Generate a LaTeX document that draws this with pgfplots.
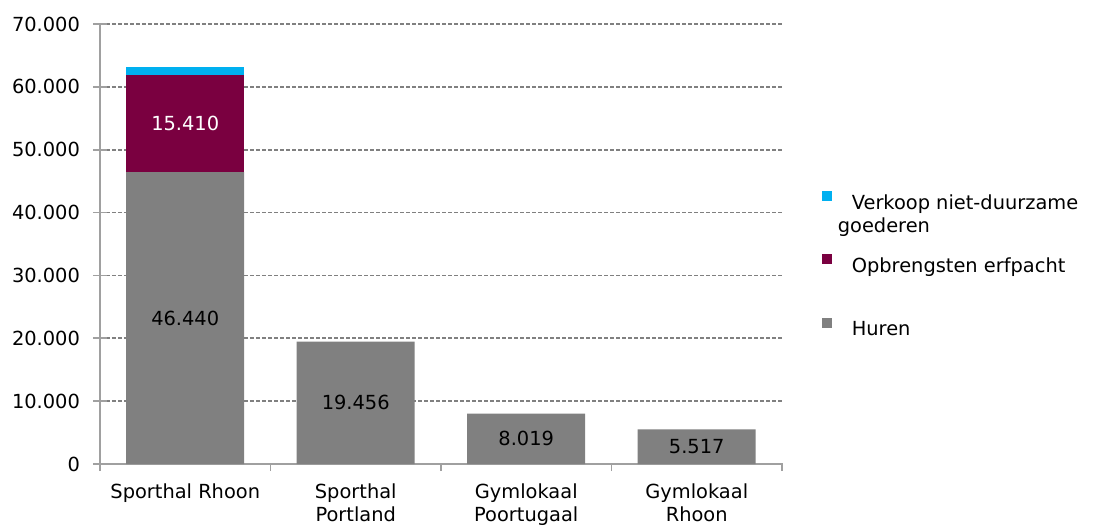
\documentclass[border=0pt]{standalone}
\usepackage{fontspec}
\setmainfont{DejaVu Sans}
\usepackage{pgfplots}
\pgfplotsset{compat=1.18}
\definecolor{cHuren}{HTML}{808080}
\definecolor{cErf}{HTML}{7A0040}
\definecolor{cVerk}{HTML}{00B0F0}
\definecolor{axgray}{HTML}{A0A0A0}

\begin{document}
\begin{tikzpicture}
\begin{axis}[
  width=341pt, height=220pt, scale only axis,
  ybar stacked, bar width=59pt,
  xmin=-0.5, xmax=3.5,
  ymin=0, ymax=70000,
  ytick={0,10000,...,70000},
  xtick={0,1,2,3},
  xticklabels={Sporthal Rhoon, Sporthal\\Portland, Gymlokaal\\Poortugaal, Gymlokaal\\Rhoon},
  x tick label style={align=center, yshift=-3pt},
  major x tick style={draw=none},
  minor xtick={-0.5,0.5,1.5,2.5,3.5},
  minor x tick style={draw=axgray, thick, yshift=-1.5pt},
  tick align=center,
  minor tick length=4pt,
  y tick style={draw=axgray, thick},
  major tick length=7pt,
  ymajorgrids, grid style={dash pattern=on 2pt off 1pt, gray, thick},
  axis x line*=bottom, axis y line*=left,
  axis line style={draw=axgray, thick, -},
  /pgf/number format/.cd, 1000 sep={.}, assume math mode=true,
  /pgfplots/.cd,
  scaled y ticks=false,
  tick label style={font=\fontsize{9.7}{11.5}\selectfont, text=black},
  yticklabel style={xshift=-3pt},
  legend style={at={(1.049,0.452)}, anchor=west, draw=none, fill=none,
    font=\fontsize{9.7}{11.5}\selectfont, row sep=20.5pt,
    nodes={text depth=0pt}},
  legend cell align=left,
  reverse legend,
  legend image code/.code={\fill[#1] (0pt,0.5pt) rectangle (5pt,5.5pt);},
  visualization depends on=rawy \as \rawy,
  every node near coord/.append style={font=\fontsize{9.7}{11.5}\selectfont,
    anchor=center},
]
\addplot[fill=cHuren, draw=none, nodes near coords={\pgfmathprintnumber{\rawy}},
  every node near coord/.append style={text=black}]
  coordinates {(0,46440) (1,19456) (2,8019) (3,5517)};
\addlegendentry{\hspace{8pt}Huren}
\addplot[fill=cErf, draw=none, nodes near coords={\pgfmathprintnumber{\rawy}},
  every node near coord/.append style={text=white}]
  coordinates {(0,15410) (1,0) (2,0) (3,0)};
\addlegendentry{\hspace{8pt}Opbrengsten erfpacht}
\addplot[fill=cVerk, draw=none]
  coordinates {(0,1300) (1,0) (2,0) (3,0)};
\addlegendentry{\vtop{\hbox{\hspace{8pt}Verkoop niet-duurzame}\hbox{\hspace{1pt}goederen}}}
\end{axis}
\pgfresetboundingbox
\useasboundingbox (-50pt,-31pt) rectangle (497pt,232pt);
\end{tikzpicture}
\end{document}
